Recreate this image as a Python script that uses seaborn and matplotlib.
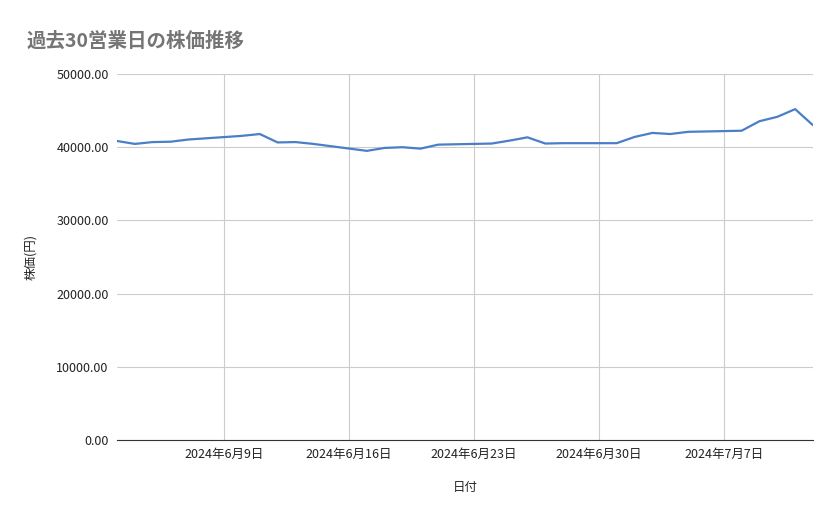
import matplotlib
matplotlib.use("Agg")
import matplotlib.pyplot as plt
import seaborn as sns
import pandas as pd

dates = ["2024-06-03","2024-06-04","2024-06-05","2024-06-06","2024-06-07",
         "2024-06-10","2024-06-11","2024-06-12","2024-06-13","2024-06-14",
         "2024-06-17","2024-06-18","2024-06-19","2024-06-20","2024-06-21",
         "2024-06-24","2024-06-25","2024-06-26","2024-06-27","2024-06-28",
         "2024-07-01","2024-07-02","2024-07-03","2024-07-04","2024-07-05",
         "2024-07-08","2024-07-09","2024-07-10","2024-07-11","2024-07-12"]
prices = [40850,40450,40700,40750,41050,
          41550,41800,40650,40700,40450,
          39500,39900,40000,39800,40350,
          40500,40900,41350,40500,40550,
          40550,41400,41950,41800,42100,
          42250,43550,44150,45200,43000]
yticks = [0,10000,20000,30000,40000,50000]
xticks = ["2024-06-09","2024-06-16","2024-06-23","2024-06-30","2024-07-07"]

sns.set_style("white")
plt.rcParams['font.family'] = ['Noto Sans CJK JP', 'DejaVu Sans']

df = pd.DataFrame({"date": pd.to_datetime(dates), "price": prices})
fig = plt.figure(figsize=(8.39, 5.19), dpi=100)
ax = fig.add_axes([117/839, 1-440/519, (813-117)/839, (440-74)/519])
sns.lineplot(data=df, x="date", y="price", ax=ax, color="#4a7fc7", linewidth=1.6)
ax.set_xlim(pd.Timestamp("2024-06-03"), pd.Timestamp("2024-07-12"))
ax.set_ylim(0, 50000)
ax.set_yticks(yticks)
ax.yaxis.set_major_formatter(matplotlib.ticker.FuncFormatter(lambda v, p: f"{v:.2f}"))
xt = pd.to_datetime(xticks)
ax.set_xticks(xt)
ax.set_xticklabels([f"{d.year}年{d.month}月{d.day}日" for d in xt])
ax.grid(True, color="#cccccc", linewidth=0.8)
for s in ["top", "right", "left"]:
    ax.spines[s].set_visible(False)
ax.spines["bottom"].set_color("#333333")
ax.tick_params(axis="both", length=0, labelsize=9, colors="#222222", pad=6)
ax.set_xlabel("日付", fontsize=9, labelpad=14)
ax.set_ylabel("株価(円)", fontsize=9, labelpad=14)
fig.text(27/839, 1-47/519, "過去30営業日の株価推移", fontsize=14, color="#757575", fontweight="bold")
fig.savefig("out.png", dpi=100)
